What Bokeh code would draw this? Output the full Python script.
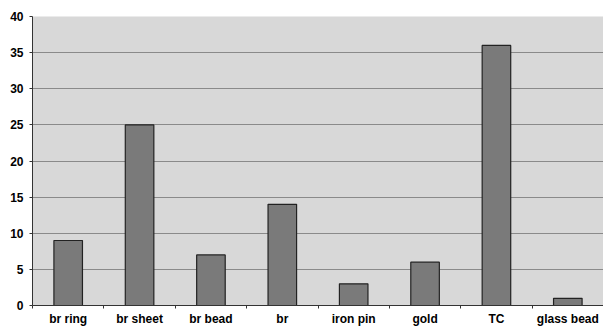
from bokeh.plotting import figure
from bokeh.models import FixedTicker, Range1d, ColumnDataSource
from bokeh.embed import file_html
from bokeh.resources import INLINE

categories = ["br ring", "br sheet", "br bead", "br", "iron pin", "gold", "TC", "glass bead"]
counts = [9, 25, 7, 14, 3, 6, 36, 1]
y_ticks = [0, 5, 10, 15, 20, 25, 30, 35, 40]

centers = [i + 0.5 for i in range(len(categories))]
src = ColumnDataSource(dict(x=centers, top=counts))

p = figure(width=603, height=328, output_backend="svg", toolbar_location=None,
           x_range=Range1d(0, len(categories)), y_range=Range1d(0, 40),
           min_border_left=32, min_border_right=0, min_border_top=16, min_border_bottom=23)
p.background_fill_color = "#d8d8d8"
p.border_fill_color = "white"
p.outline_line_color = None

p.vbar(x="x", top="top", width=0.4, bottom=0, source=src,
       fill_color="#7a7a7a", line_color="#222222", line_width=1.2)

# y axis
p.yaxis.ticker = FixedTicker(ticks=y_ticks)
p.yaxis.major_label_text_font = "Liberation Sans"
p.yaxis.major_label_text_font_style = "bold"
p.yaxis.major_label_text_font_size = "12px"
p.yaxis.major_label_text_color = "black"
p.yaxis.major_tick_out = 3
p.yaxis.major_tick_in = 0
p.yaxis.minor_tick_line_color = None
p.yaxis.axis_line_color = "#333333"
p.yaxis.major_tick_line_color = "#333333"
p.yaxis.major_label_standoff = 6

# x axis: labels at centers, ticks at boundaries
p.xaxis.ticker = FixedTicker(ticks=centers, minor_ticks=list(range(len(categories) + 1)))
p.xaxis.major_label_overrides = {c: lab for c, lab in zip(centers, categories)}
p.xaxis.major_tick_line_color = None
p.xaxis.major_tick_out = 0
p.xaxis.major_tick_in = 0
p.xaxis.minor_tick_out = 3
p.xaxis.minor_tick_in = 0
p.xaxis.minor_tick_line_color = "#333333"
p.xaxis.axis_line_color = "#333333"
p.xaxis.major_label_text_font = "Liberation Sans"
p.xaxis.major_label_text_font_style = "bold"
p.xaxis.major_label_text_font_size = "12px"
p.xaxis.major_label_text_color = "black"
p.xaxis.major_label_standoff = 3

p.xgrid.grid_line_color = None
p.ygrid.grid_line_color = "#8a8a8a"
p.ygrid.ticker = FixedTicker(ticks=y_ticks)

open("out.html", "w").write(file_html(p, INLINE))
